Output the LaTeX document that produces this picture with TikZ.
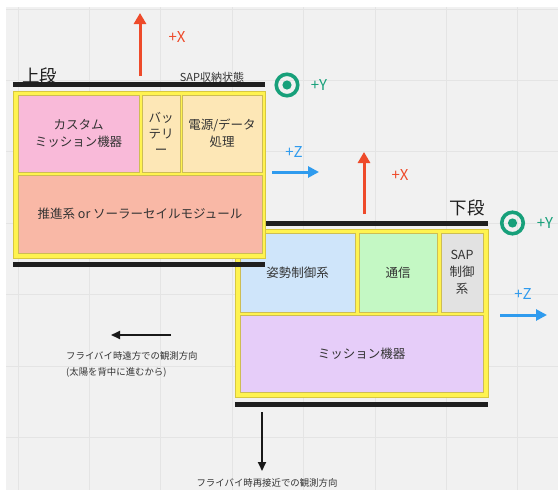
\documentclass[tikz,border=0pt]{standalone}
\usepackage{fontspec}
\setmainfont{Noto Sans CJK JP}
\usetikzlibrary{arrows.meta}
\definecolor{bgc}{HTML}{F1F1F1}
\definecolor{gridc}{HTML}{E4E4E4}
\definecolor{yel}{HTML}{FFF350}
\definecolor{yeledge}{HTML}{D8C840}
\definecolor{inedge}{HTML}{CDBD55}
\definecolor{pinkc}{HTML}{F9BAD9}
\definecolor{orangec}{HTML}{FDE7B6}
\definecolor{salmonc}{HTML}{F9B8A6}
\definecolor{bluec}{HTML}{CFE5FA}
\definecolor{greenc}{HTML}{C4F8C4}
\definecolor{grayc}{HTML}{E2E2E2}
\definecolor{lavc}{HTML}{E6CDF9}
\definecolor{redc}{HTML}{EE4A2A}
\definecolor{tealc}{HTML}{17A07A}
\definecolor{azc}{HTML}{2F9BEE}
\definecolor{txt}{HTML}{333333}
\tikzset{
  outerbox/.style={draw=yeledge, fill=yel, line width=0.8pt, inner sep=0pt, outer sep=0pt},
  inbox/.style={draw=inedge, line width=0.8pt, inner sep=0pt, outer sep=0pt, align=center, text=txt,
     font=\fontsize{12.5}{17}\selectfont},
  rail/.style={line width=5pt, draw=black!88},
  gridline/.style={draw=gridc, line width=1pt},
  redarrow/.style={draw=redc, line width=3pt, -{Triangle[width=12pt,length=11pt]}},
  bluearrow/.style={draw=azc, line width=3pt, -{Triangle[width=11pt,length=11pt]}},
  blackarrow/.style={draw=black!90, line width=1.8pt, -{Triangle[width=8pt,length=9pt]}},
  axislbl/.style={font=\fontsize{15}{18}\selectfont, inner sep=0pt},
  ycircle/.style={circle, draw=tealc, line width=3.6pt, minimum size=21.5pt, inner sep=0pt},
  stagelbl/.style={font=\fontsize{17.5}{20}\selectfont, text=black!88, inner sep=0pt},
  smalllbl/.style={font=\fontsize{9.4}{16}\selectfont, text=txt, inner sep=0pt}
}
\begin{document}
\begin{tikzpicture}[x=1pt, y=-1pt]
\useasboundingbox (0,0) rectangle (558,490);
\fill[white] (0,0) rectangle (558,490);
\fill[bgc] (6,7) rectangle (558,490);
\foreach \i in {0,...,7} {\draw[gridline] ({18+71.4*\i},7) -- ({18+71.4*\i},490);}
\foreach \j in {0,...,6} {\draw[gridline] (6,{9+71.4*\j}) -- (558,{9+71.4*\j});}

% ---- lower stage ----
\draw[rail] (235,223) -- (488,223);
\node[outerbox, minimum width=253pt, minimum height=168pt] (lowbox) at (361.5,313) {};
\node[inbox, fill=bluec, minimum width=115pt, minimum height=79pt] (att) at (297.5,272.5) {姿勢制御系};
\node[inbox, fill=greenc, minimum width=78pt, minimum height=79pt] (comm) at (398,272.5) {通信};
\node[inbox, fill=grayc, minimum width=42pt, minimum height=79pt] (sapc) at (462,272.5) {SAP\\制御\\系};
\node[inbox, fill=lavc, minimum width=243pt, minimum height=77pt] (miss) at (361.5,353.5) {ミッション機器};
\draw[rail] (235,404) -- (488,404);

% ---- upper stage ----
\draw[rail] (13,84) -- (265,84);
\node[outerbox, minimum width=252pt, minimum height=167pt] (upbox) at (139,174.5) {};
\node[inbox, fill=pinkc, minimum width=121pt, minimum height=77pt] (custom) at (78.5,133.5) {カスタム\\ミッション機器};
\node[inbox, fill=orangec, minimum width=38pt, minimum height=77pt, font=\fontsize{12.5}{16}\selectfont] (batt) at (161,133.5) {バッ\\テリ\\ー};
\node[inbox, fill=orangec, minimum width=80pt, minimum height=77pt] (power) at (222,133.5) {電源/データ\\処理};
\node[inbox, fill=salmonc, minimum width=244pt, minimum height=78pt] (prop) at (140,214) {推進系 or ソーラーセイルモジュール};
\draw[rail] (13,264) -- (265,264);

% ---- labels ----
\node[stagelbl] (upl) at (40,76) {上段};
\node[stagelbl] (lowl) at (467,208) {下段};
\node[font=\fontsize{11}{13}\selectfont, text=black!80, inner sep=0pt] (sapstow) at (212,77) {SAP収納状態};

% ---- axes upper ----
\coordinate (xu0) at (140,76);
\coordinate (xu1) at (140,13);
\draw[redarrow] (xu0) -- (xu1);
\node[axislbl, text=redc] (xul) at (177,37) {+X};
\node[ycircle] (yu) at (287,85) {};
\fill[tealc] (yu.center) circle (4.6);
\node[axislbl, text=tealc] (yul) at (319,85) {+Y};
\coordinate (zu0) at (272,172);
\coordinate (zu1) at (319,172);
\draw[bluearrow] (zu0) -- (zu1);
\node[axislbl, text=azc] (zul) at (294,152) {+Z};

% ---- axes lower ----
\coordinate (xl0) at (364,214);
\coordinate (xl1) at (364,152);
\draw[redarrow] (xl0) -- (xl1);
\node[axislbl, text=redc] (xll) at (400,175) {+X};
\node[ycircle] (yl) at (512.5,223) {};
\fill[tealc] (yl.center) circle (4.6);
\node[axislbl, text=tealc] (yll) at (545,223) {+Y};
\coordinate (zl0) at (500,315);
\coordinate (zl1) at (547,315);
\draw[bluearrow] (zl0) -- (zl1);
\node[axislbl, text=azc] (zll) at (523,294) {+Z};

% ---- observation directions ----
\coordinate (far0) at (171,335);
\coordinate (far1) at (111,335);
\draw[blackarrow] (far0) -- (far1);
\node[smalllbl, anchor=west, align=left] (fartxt) at (66,364) {フライバイ時遠方での観測方向\\(太陽を背中に進むから)};
\coordinate (near0) at (262,412);
\coordinate (near1) at (262,471);
\draw[blackarrow] (near0) -- (near1);
\node[smalllbl] (neartxt) at (267,483) {フライバイ時再接近での観測方向};
\end{tikzpicture}
\end{document}
